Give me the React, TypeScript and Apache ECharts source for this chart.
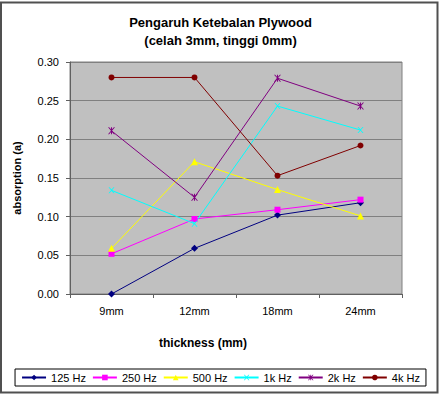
import React, { useEffect, useRef } from "react";
import * as echarts from "echarts";

const categories = ["9mm", "12mm", "18mm", "24mm"];
const seriesNames = ["125 Hz", "250 Hz", "500 Hz", "1k Hz", "2k Hz", "4k Hz"];
const hz125 = [0.0, 0.059, 0.102, 0.118];
const hz250 = [0.052, 0.097, 0.109, 0.122];
const hz500 = [0.059, 0.171, 0.135, 0.101];
const hz1k = [0.134, 0.091, 0.243, 0.212];
const hz2k = [0.211, 0.125, 0.279, 0.243];
const hz4k = [0.28, 0.28, 0.153, 0.192];
const yTicks = [0, 0.05, 0.1, 0.15, 0.2, 0.25, 0.3];

const FONT = "'Liberation Sans', Arial, sans-serif";

const X_SYMBOL =
  "path://M0,0 L1.6,0 L5,3.6 L8.4,0 L10,0 L5.8,4.8 L10,10 L8.4,10 L5,6 L1.6,10 L0,10 L4.2,4.8 Z";
const STAR_SYMBOL =
  "path://M0,0 L1.6,0 L5,3.6 L8.4,0 L10,0 L5.8,4.8 L10,10 L8.4,10 L5,6 L1.6,10 L0,10 L4.2,4.8 Z M4.3,0 L5.7,0 L5.7,10 L4.3,10 Z";

export default function App() {
  const ref = useRef<HTMLDivElement>(null);
  useEffect(() => {
    if (!ref.current) return;
    const chart = echarts.init(ref.current, undefined, { renderer: "svg" });
    const data = [hz125, hz250, hz500, hz1k, hz2k, hz4k];
    const colors = ["#000080", "#FF00FF", "#FFFF00", "#00FFFF", "#800080", "#800000"];
    const symbols = ["diamond", "rect", "triangle", X_SYMBOL, STAR_SYMBOL, "circle"];
    const sizes = [7, 6, 7, 6, 7, 6];
    chart.setOption({
      animation: false,
      textStyle: { fontFamily: FONT },
      title: {
        text: "Pengaruh Ketebalan Plywood\n(celah 3mm, tinggi 0mm)",
        left: "center",
        top: 8,
        textStyle: {
          fontFamily: FONT,
          fontSize: 13,
          fontWeight: "bold",
          color: "#000",
          lineHeight: 18,
        },
      },
      grid: {
        left: 70,
        right: 39,
        top: 62,
        bottom: 100,
        show: true,
        backgroundColor: "#C0C0C0",
        borderColor: "#808080",
        borderWidth: 1,
      },
      legend: {
        data: seriesNames,
        left: "center",
        top: 369,
        padding: [3, 6, 3, 6],
        itemGap: 6,
        itemWidth: 24,
        itemHeight: 7,
        borderColor: "#000",
        borderWidth: 1,
        textStyle: { fontFamily: FONT, fontSize: 11, color: "#000" },
      },
      xAxis: {
        type: "category",
        data: categories,
        boundaryGap: true,
        axisLine: { lineStyle: { color: "#606060" } },
        axisTick: { show: true, length: 4, lineStyle: { color: "#606060" } },
        axisLabel: { fontFamily: FONT, fontSize: 11, color: "#000", margin: 11 },
        splitLine: { show: false },
      },
      yAxis: {
        type: "value",
        min: yTicks[0],
        max: yTicks[yTicks.length - 1],
        interval: 0.05,
        name: "absorption (a)",
        nameLocation: "middle",
        nameGap: 48,
        nameTextStyle: { fontFamily: FONT, fontSize: 11, fontWeight: "bold", color: "#000" },
        axisLine: { show: true, lineStyle: { color: "#606060" } },
        axisTick: { show: true, length: 4, lineStyle: { color: "#606060" } },
        axisLabel: {
          fontFamily: FONT,
          fontSize: 11,
          color: "#000",
          margin: 11,
          formatter: (v: number) => v.toFixed(2),
        },
        splitLine: { show: true, lineStyle: { color: "#808080", width: 1 } },
      },
      graphic: [
        {
          type: "rect",
          shape: { x: 1, y: 2.5, width: 436.5, height: 390 },
          style: { fill: "none", stroke: "#505050", lineWidth: 2 },
          silent: true,
          z: 100,
        },
        {
          type: "text",
          x: 203,
          y: 343,
          style: {
            text: "thickness (mm)",
            fontFamily: FONT,
            fontSize: 12,
            fontWeight: "bold",
            fill: "#000",
            textAlign: "center",
            textVerticalAlign: "middle",
          },
        },
      ],
      series: seriesNames.map((name, i) => ({
        name,
        type: "line",
        data: data[i],
        symbol: symbols[i],
        symbolSize: sizes[i],
        showAllSymbol: true,
        color: colors[i],
        lineStyle: { color: colors[i], width: 1 },
        itemStyle: { color: colors[i] },
      })),
    });
    return () => chart.dispose();
  }, []);
  return (
    <div
      ref={ref}
      style={{ position: "fixed", left: 0, top: 0, width: 441, height: 394, background: "#fff" }}
    />
  );
}
